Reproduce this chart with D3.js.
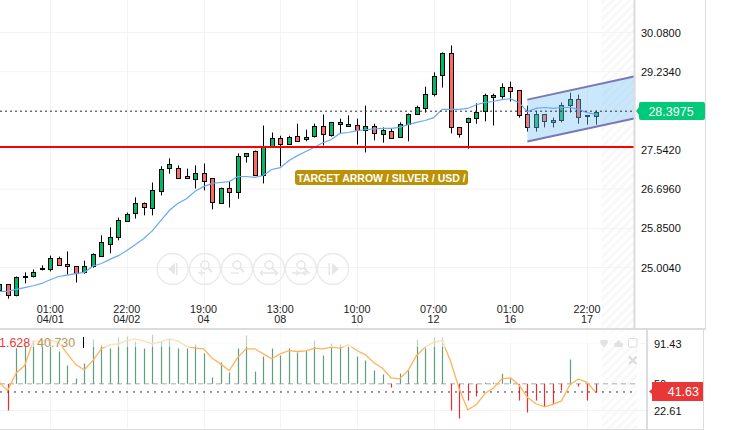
<!DOCTYPE html>
<html><head><meta charset="utf-8">
<script src="https://cdn.jsdelivr.net/npm/d3@7"></script>
<style>html,body{margin:0;padding:0;background:#fff;overflow:hidden}svg{display:block}text{font-family:"Liberation Sans",Arial,sans-serif}</style>
</head><body><svg id="c" width="732" height="430"></svg>
<script>
const firstIndex = -6;
const opens  = [24.51,24.64,24.40,24.81,24.81,24.98,24.98,25.22,25.07,25.03,24.90,25.03,25.26,25.52,25.67,26.02,26.17,26.39,26.28,26.67,27.16,27.16,26.97,26.93,27.05,26.93,26.41,26.73,26.65,27.40,27.53,26.99,27.62,27.81,27.68,27.85,27.79,27.83,28.05,27.85,28.09,28.07,28.09,27.98,28.05,27.90,27.96,27.83,28.09,28.31,28.46,28.76,29.15,29.63,28.03,28.16,28.24,28.37,28.70,28.72,28.91,28.83,28.31,28.03,28.31,28.16,28.20,28.52,28.65,28.29,28.29];
const highs  = [24.68,24.64,24.81,24.90,24.96,25.05,25.26,25.24,25.35,25.03,25.15,25.31,25.70,25.87,26.08,26.19,26.52,26.41,26.84,27.19,27.36,27.21,27.14,27.21,27.25,26.93,26.73,26.86,27.47,27.47,27.53,28.07,27.92,27.85,27.85,28.11,27.98,28.11,28.31,28.14,28.22,28.29,28.22,28.50,28.11,28.03,28.01,28.14,28.33,28.50,28.91,29.22,29.65,29.80,28.03,28.24,28.55,28.76,28.76,28.98,29.02,28.83,28.50,28.39,28.31,28.24,28.57,28.78,28.74,28.29,28.39];
const lows   = [24.46,24.33,24.38,24.66,24.79,24.94,24.92,25.05,24.85,24.68,24.87,25.00,25.24,25.31,25.59,26.00,26.06,26.13,26.13,26.56,27.03,26.93,26.93,26.71,26.67,26.26,26.39,26.30,26.49,27.27,27.01,26.82,27.62,27.19,27.66,27.73,27.73,27.81,27.64,27.83,27.90,28.05,27.66,27.49,27.75,27.70,27.79,27.81,27.73,28.31,28.35,28.70,28.89,27.90,27.81,27.57,28.11,28.16,28.07,28.65,28.59,28.24,27.94,27.94,28.03,28.03,28.14,28.35,28.11,28.09,28.09];
const closes = [24.64,24.40,24.79,24.83,24.90,25.00,25.22,25.07,25.03,24.87,25.03,25.29,25.56,25.67,26.04,26.17,26.39,26.30,26.67,27.14,27.25,26.95,26.93,27.05,26.88,26.41,26.73,26.65,27.42,27.47,27.01,27.62,27.81,27.68,27.83,27.75,27.83,28.05,27.88,28.14,28.14,28.11,27.98,28.07,27.90,27.98,27.81,28.11,28.31,28.46,28.76,29.15,29.63,28.03,27.88,28.24,28.37,28.72,28.74,28.91,28.83,28.29,28.03,28.31,28.16,28.20,28.52,28.65,28.27,28.27,28.37];
const average = [24.49,24.49,24.53,24.57,24.61,24.66,24.74,24.81,24.84,24.87,24.90,25.03,25.09,25.18,25.26,25.37,25.50,25.63,25.80,26.02,26.24,26.39,26.49,26.65,26.75,26.82,26.84,26.86,26.97,26.97,26.95,26.99,27.12,27.16,27.31,27.42,27.51,27.60,27.70,27.77,27.90,27.92,27.96,27.98,28.00,28.01,28.01,28.03,28.09,28.14,28.18,28.24,28.42,28.42,28.42,28.44,28.52,28.57,28.59,28.63,28.65,28.57,28.37,28.44,28.46,28.44,28.46,28.46,28.42,28.35,28.31];
const histogram = [55,22.6,86.6,92.7,94.5,94.5,92.4,83.2,68.8,55.4,70.9,95.5,90.4,86.3,97.6,98.6,93.4,86.3,100.6,93.4,96.5,86.3,86.3,90.4,81.1,56.5,71.9,61.6,86.3,99.6,62.6,78.0,86.3,79.1,86.3,82.2,84.2,94.5,79.1,91.4,90.4,88.3,78.0,73.9,63.7,59.6,46.2,60.6,63.7,95.5,86.3,97.6,97.6,22.6,14.4,32.8,37.0,51.3,51.3,60.3,55.4,32.8,20.5,32.8,26.7,28.7,43.1,75.0,47.2,32.8,41.1];
const oscillator = [51.6,43.1,60.9,68.8,93.8,93.8,94.5,92.7,81.1,69.8,64.4,73.9,86.0,90.1,91.1,94.5,96.2,93.8,91.1,93.4,96.2,93.8,88.6,86.6,86.0,76.3,70.5,63.7,77.0,86.0,86.0,80.8,75.7,80.8,84.2,83.2,83.9,86.6,86.0,87.6,86.6,90.1,84.2,79.8,71.6,66.0,56.2,55.1,63.7,79.1,87.6,92.7,94.5,72.9,44.9,23.3,28.4,40.0,45.5,55.1,56.2,49.0,36.2,29.5,26.4,29.0,32.5,49.0,55.1,51.6,41.4];
const priceTicks = [30.08,29.234,27.542,26.696,25.85,25.004];
const priceGrid = [30.08,29.234,28.388,27.542,26.696,25.85,25.004];
const priceFormat = d3.format(".4f");
const oscTicks = [91.43,50,22.61];
const timeIndex = [0,9,18,27,36,45,54,63];
const timeLabels = ["01:00","22:00","19:00","13:00","10:00","07:00","01:00","22:00"];
const dateLabels = ["04/01","04/02","04","08","10","12","16","17"];
const supportLevel = 27.607;
const lastPrice = "28.3975", lastPriceLevel = 28.38;
const lastOsc = 41.63;
const channelIndex = [56,68.66];
const channelUpper = [28.63,29.136];
const channelLower = [27.725,28.23];
const legendValues = ["41.628","40.730"];
const noteText = "TARGET ARROW / SILVER / USD /";

const svg = d3.select("#c");
const x = d3.scaleLinear().domain([0,63]).range([50.2,587]);
const y = d3.scaleLinear().domain([30.08,25.004]).range([32.5,267.5]);
const yo = d3.scaleLinear().domain([91.43,22.61]).range([343.5,410.5]);
const GRID="#f3f3f3", BORDER="#dcdcdc", GREEN="#00b868", RED="#fb6a60";

const defs = svg.append("defs");
const pat = defs.append("pattern").attr("id","hatch").attr("width",6).attr("height",6)
  .attr("patternUnits","userSpaceOnUse").attr("patternTransform","rotate(-45)");
pat.append("rect").attr("width",6).attr("height",3).attr("fill","#f8f8f8");

// hatched future areas
svg.append("rect").attr("x",602).attr("y",0).attr("width",32).attr("height",328).attr("fill","url(#hatch)");
svg.append("rect").attr("x",602).attr("y",330).attr("width",35).attr("height",99).attr("fill","url(#hatch)");

// grid
svg.append("g").selectAll("line").data(priceGrid).join("line")
  .attr("x1",0).attr("x2",634).attr("y1",d=>y(d)).attr("y2",d=>y(d)).attr("stroke",GRID);
svg.append("g").selectAll("line").data(timeIndex).join("line")
  .attr("x1",d=>Math.round(x(d))+.5).attr("x2",d=>Math.round(x(d))+.5).attr("y1",0).attr("y2",328).attr("stroke",GRID);
svg.append("g").selectAll("line").data(timeIndex).join("line")
  .attr("x1",d=>Math.round(x(d))+.5).attr("x2",d=>Math.round(x(d))+.5).attr("y1",330).attr("y2",429).attr("stroke",GRID);
svg.append("g").selectAll("line").data([91.43,22.61]).join("line")
  .attr("x1",0).attr("x2",646).attr("y1",d=>yo(d)).attr("y2",d=>yo(d)).attr("stroke",GRID);

// nav buttons
const navX=[172.7,205,237,269,301,333];
const nav=svg.append("g").attr("stroke","#e9e9e9").attr("fill","none").attr("stroke-width",1.3);
navX.forEach(cx=>nav.append("circle").attr("cx",cx).attr("cy",269).attr("r",15.5));
const ig=svg.append("g");
ig.append("path").attr("d","M169 269l7-6v12z M177 263h1.5v12H177z").attr("fill","#e6e6e6").attr("transform","translate(-1,0)");
ig.append("path").attr("d","M329.500 263h1.500v12h-1.500z M333 263l7 6-7 6z").attr("fill","#e6e6e6").attr("transform","translate(-1,0)");
[[205,0],[237,1],[269,2],[301,3]].forEach(([cx,k])=>{
  ig.append("circle").attr("cx",cx).attr("cy",265).attr("r",4).attr("fill","none").attr("stroke","#e6e6e6").attr("stroke-width",1.5);
  ig.append("path").attr("d",`M${cx+3} 268l4 4`).attr("stroke","#e6e6e6").attr("stroke-width",2);
  const s=k==0?`M${cx-7} 273h7M${cx-3.5} 269.500v7`:k==1?`M${cx-6} 273h8`:k==2?`M${cx-9} 273h18M${cx-9} 273l3-2.500M${cx-9} 273l3 2.500M${cx+9} 273l-3-2.500M${cx+9} 273l-3 2.500`:`M${cx-9} 273h18M${cx-2} 273l-3-2.500M${cx-2} 273l-3 2.500M${cx+2} 273l3-2.500M${cx+2} 273l3 2.500`;
  ig.append("path").attr("d",s).attr("stroke","#e6e6e6").attr("stroke-width",1.3).attr("fill","none");
});

// candles
const cand = opens.map((o,i)=>({i:i+firstIndex,o,h:highs[i],l:lows[i],c:closes[i]}));
const cx = d=>Math.round(x(d.i));
const cg = svg.append("g");
cg.selectAll("line").data(cand).join("line")
  .attr("x1",d=>cx(d)+.5).attr("x2",d=>cx(d)+.5).attr("y1",d=>y(d.h)).attr("y2",d=>y(d.l))
  .attr("stroke","#000").attr("stroke-width",1);
cg.selectAll("rect").data(cand).join("rect")
  .attr("x",d=>cx(d)-1.5).attr("width",4)
  .attr("y",d=>Math.round(y(Math.max(d.o,d.c)))+.5)
  .attr("height",d=>Math.max(1,Math.round(Math.abs(y(d.o)-y(d.c)))))
  .attr("fill",d=>d.c>=d.o?GREEN:RED).attr("stroke","#000").attr("stroke-width",1);

// channel
const channelPts=[[0,channelUpper],[1,channelUpper],[1,channelLower],[0,channelLower]].map(([k,a])=>[x(channelIndex[k]),y(a[k])]);
svg.append("path").attr("d",d3.line()(channelPts)+"Z").attr("fill","#7cc4f6").attr("fill-opacity",.4);
svg.append("g").selectAll("line").data([channelUpper,channelLower]).join("line")
  .attr("x1",x(channelIndex[0])).attr("x2",x(channelIndex[1])).attr("y1",d=>y(d[0])).attr("y2",d=>y(d[1]))
  .attr("stroke","#7878b8").attr("stroke-width",2);

// average line
svg.append("path").datum(average).attr("fill","none").attr("stroke","#6aa8f5").attr("stroke-width",1.2)
  .attr("d",d3.line().x((d,i)=>x(i+firstIndex)).y(d=>y(d)));

// price line and support
svg.append("line").attr("x1",0).attr("x2",634).attr("y1",y(lastPriceLevel)).attr("y2",y(lastPriceLevel))
  .attr("stroke","#333").attr("stroke-dasharray","2 3").attr("stroke-width",1);
svg.append("line").attr("x1",0).attr("x2",634).attr("y1",y(supportLevel)).attr("y2",y(supportLevel))
  .attr("stroke","#ff0000").attr("stroke-width",2);

// note
svg.append("rect").attr("x",295).attr("y",170).attr("width",173).attr("height",15).attr("rx",3).attr("fill","#bb9106");
svg.append("text").attr("x",381.500).attr("y",181.500).attr("text-anchor","middle").attr("fill","#fff")
  .attr("font-size",10.5).attr("font-weight","bold").text(noteText);

// panels frame
svg.append("rect").attr("x",633.500).attr("y",0).attr("width",2).attr("height",328).attr("fill",BORDER);
svg.append("rect").attr("x",705).attr("y",0).attr("width",1).attr("height",328).attr("fill",BORDER);
svg.append("rect").attr("x",0).attr("y",328).attr("width",706).attr("height",2).attr("fill",BORDER);
svg.append("rect").attr("x",0).attr("y",429).attr("width",704).attr("height",1).attr("fill",BORDER);
svg.append("rect").attr("x",646).attr("y",330).attr("width",2).attr("height",99).attr("fill",BORDER);
svg.append("rect").attr("x",703).attr("y",330).attr("width",1).attr("height",99).attr("fill",BORDER);

// axes
svg.append("g").selectAll("text").data(priceTicks).join("text")
  .attr("x",641).attr("y",d=>y(d)+4).attr("font-size",11).attr("fill","#111").text(d=>priceFormat(d));
svg.append("g").selectAll("text").data(timeIndex).join("text")
  .attr("x",d=>x(d)).attr("y",313).attr("text-anchor","middle").attr("font-size",10.800).attr("fill","#222").text((d,i)=>timeLabels[i]);
svg.append("g").selectAll("text").data(timeIndex).join("text")
  .attr("x",d=>x(d)).attr("y",323).attr("text-anchor","middle").attr("font-size",10.800).attr("fill","#222").text((d,i)=>dateLabels[i]);

// last price tag
svg.append("path").attr("d","M641 102H703a2 2 0 0 1 2 2V118a2 2 0 0 1-2 2H641a2 2 0 0 1-2-2V115l-3-4 3-4V104a2 2 0 0 1 2-2Z").attr("fill","#00c978");
svg.append("text").attr("x",671).attr("y",116).attr("text-anchor","middle").attr("fill","#fff").attr("font-size",12.500).text(lastPrice);

// oscillator
const osc = histogram.map((v,i)=>({i:i+firstIndex,v}));
const base = yo(50);
svg.append("line").attr("x1",0).attr("x2",636).attr("y1",base).attr("y2",base).attr("stroke","#aaa").attr("stroke-dasharray","5 4");
svg.append("g").selectAll("line").data(osc).join("line")
  .attr("x1",d=>Math.round(x(d.i))+.5).attr("x2",d=>Math.round(x(d.i))+.5)
  .attr("y1",base).attr("y2",d=>yo(d.v))
  .attr("stroke",d=>d.v>=50?"#5f9f7b":"#ee2c2c").attr("stroke-width",1.2);
svg.append("line").attr("x1",0).attr("x2",636).attr("y1",yo(lastOsc)).attr("y2",yo(lastOsc))
  .attr("stroke","#333").attr("stroke-dasharray","2 5");
svg.append("path").datum(oscillator).attr("fill","none").attr("stroke","#ffb45c").attr("stroke-width",1.3)
  .attr("d",d3.line().x((d,i)=>x(i+firstIndex)).y(d=>yo(d)));
svg.append("rect").attr("x",0).attr("y",330).attr("width",640).attr("height",17).attr("fill","#fff").attr("opacity",.55);

// legend
svg.append("text").attr("x",-8).attr("y",347).attr("font-size",12.500).attr("fill","#e83a3a").text(legendValues[0]);
svg.append("text").attr("x",37).attr("y",347).attr("font-size",12.500).attr("fill","#bb9458").text(legendValues[1]);
svg.append("rect").attr("x",83).attr("y",337).attr("width",1).attr("height",11).attr("fill","#000");

// panel icons
const pi=svg.append("g").attr("fill","#e2e2e2");
pi.append("path").attr("d","M600 342q0-2 2-2h4q2 0 2 2 0 1-4 5.500-4-4.500-4-5.500z");
pi.append("path").attr("d","M618.500 340q1.500 0 2 2.500 2.500 0 2.500 3 0 1.500-2 1.500h-5q-2 0-2-1.500 0-3 2.500-3 .5-2.500 2-2.500z");
svg.append("rect").attr("x",628.500).attr("y",338.500).attr("width",8.500).attr("height",8.500).attr("rx",1).attr("fill","#fff").attr("stroke","#dcdcdc");
svg.append("path").attr("d","M629 356.500l7.500 7.500M636.500 356.500l-7.500 7.500").attr("stroke","#dcdcdc").attr("stroke-width",2.200);

// oscillator axis
svg.append("g").selectAll("text").data(oscTicks).join("text")
  .attr("x",654).attr("y",d=>yo(d)+4).attr("font-size",11).attr("fill","#111").text(d=>d);
svg.append("path").attr("d","M652 382H703V401H652V394L649 391.500 652 389Z").attr("fill","#e93636");
svg.append("text").attr("x",699).attr("y",396).attr("text-anchor","end").attr("fill","#fff").attr("font-size",12.500).text(lastOsc);
</script></body></html>
